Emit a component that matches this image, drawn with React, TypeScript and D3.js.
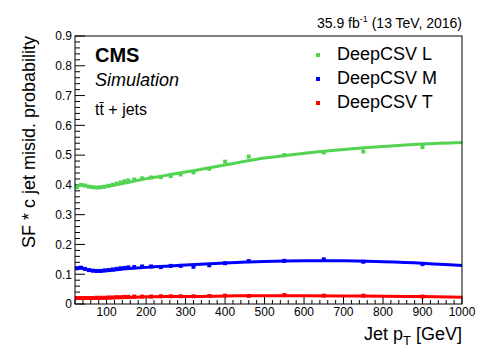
import React from "react";
import * as d3 from "d3";

const W = 498;
const H = 359;

// Bin centres of the measured points (GeV)
const ptPoints = [25, 35, 45, 55, 65, 75, 85, 95, 105, 115, 125, 135, 145, 155, 170, 190, 212.5, 237.5, 262.5, 287.5, 320, 360, 400, 460, 550, 650, 750, 900];
const loosePoints = [0.392, 0.4, 0.398, 0.394, 0.392, 0.391, 0.392, 0.394, 0.397, 0.4, 0.404, 0.408, 0.412, 0.415, 0.418, 0.422, 0.425, 0.426, 0.43, 0.435, 0.442, 0.454, 0.478, 0.495, 0.5, 0.509, 0.512, 0.527];
const mediumPoints = [0.12, 0.122, 0.118, 0.114, 0.112, 0.111, 0.111, 0.113, 0.114, 0.116, 0.118, 0.12, 0.121, 0.123, 0.124, 0.126, 0.126, 0.124, 0.128, 0.128, 0.125, 0.13, 0.137, 0.144, 0.145, 0.15, 0.142, 0.134];
const tightPoints = [0.02, 0.02, 0.02, 0.02, 0.02, 0.021, 0.021, 0.021, 0.022, 0.022, 0.023, 0.023, 0.024, 0.024, 0.025, 0.025, 0.025, 0.026, 0.026, 0.026, 0.026, 0.027, 0.028, 0.027, 0.03, 0.028, 0.028, 0.025];

// Fit curves sampled at these pt values
const ptCurve = [20, 35, 50, 75, 100, 150, 200, 250, 300, 400, 500, 600, 700, 800, 900, 1000];
const looseCurve = [0.392, 0.4, 0.396, 0.391, 0.395, 0.407, 0.421, 0.432, 0.443, 0.467, 0.49, 0.506, 0.519, 0.529, 0.537, 0.542];
const mediumCurve = [0.12, 0.121, 0.116, 0.111, 0.112, 0.118, 0.123, 0.127, 0.131, 0.138, 0.143, 0.145, 0.145, 0.142, 0.137, 0.129];
const tightCurve = [0.019, 0.019, 0.019, 0.019, 0.02, 0.022, 0.024, 0.025, 0.025, 0.027, 0.028, 0.028, 0.027, 0.026, 0.025, 0.023];

const seriesNames = ["DeepCSV L", "DeepCSV M", "DeepCSV T"];
const seriesColors = ["#52d452", "#0000ff", "#ff0000"];
const yTicks = [0, 0.1, 0.2, 0.3, 0.4, 0.5, 0.6, 0.7, 0.8, 0.9];
const xTicks = [100, 200, 300, 400, 500, 600, 700, 800, 900, 1000];

const FONT = "Liberation Sans, Arial, Helvetica, sans-serif";

export default function App() {
  const left = 75, right = 462, top = 36, bottom = 304;
  const x = d3.scaleLinear().domain([20, 1000]).range([left, right]);
  const y = d3.scaleLinear().domain([0, 0.9]).range([bottom, top]);

  const line = d3
    .line<number>()
    .x((_, i) => x(ptCurve[i]))
    .y((d) => y(d))
    .curve(d3.curveMonotoneX);

  const curves = [looseCurve, mediumCurve, tightCurve];
  const points = [loosePoints, mediumPoints, tightPoints];

  const yMinor = d3.range(0, 0.9001, 0.02);
  const xMinor = d3.range(20, 1000.01, 20);

  return (
    <svg width={W} height={H} style={{ position: "absolute", left: 0, top: 0, background: "#fff" }} fontFamily={FONT}>
      <rect x={0} y={0} width={W} height={H} fill="#fff" />
      {/* ticks */}
      {yMinor.map((v, i) => {
        const major = Math.abs(v * 10 - Math.round(v * 10)) < 1e-6;
        return (
          <line key={"ym" + i} x1={left} x2={left + (major ? 10 : 5)} y1={y(v)} y2={y(v)} stroke="#000" strokeWidth={1} />
        );
      })}
      {xMinor.map((v, i) => {
        const major = Math.abs(v % 100) < 1e-6;
        return (
          <line key={"xm" + i} x1={x(v)} x2={x(v)} y1={bottom} y2={bottom - (major ? 8 : 4)} stroke="#000" strokeWidth={1} />
        );
      })}
      {yTicks.map((v) => (
        <text key={"yl" + v} x={72} y={y(v)} dy="0.36em" textAnchor="end" fontSize={12} fill="#000">
          {v === 0 ? "0" : v.toFixed(1)}
        </text>
      ))}
      {xTicks.map((v) => (
        <text key={"xl" + v} x={x(v)} y={316} textAnchor="middle" fontSize={12} fill="#000">
          {v}
        </text>
      ))}
      {/* curves and points */}
      {curves.map((c, s) => (
        <path key={"c" + s} d={line(c) || ""} fill="none" stroke={seriesColors[s]} strokeWidth={3} />
      ))}
      {points.map((p, s) =>
        p.map((v, i) => (
          <rect key={"p" + s + "-" + i} x={x(ptPoints[i]) - 2} y={y(v) - 2} width={4} height={4} fill={seriesColors[s]} />
        ))
      )}
      {/* frame */}
      <rect x={left} y={top} width={right - left} height={bottom - top} fill="none" stroke="#000" strokeWidth={1} />
      {/* axis titles */}
      <text x={right} y={340} textAnchor="end" fontSize={18} fill="#000">
        Jet p<tspan fontSize={13} dy={5}>T</tspan><tspan dy={-5}> [GeV]</tspan>
      </text>
      <text transform={`translate(35,${top}) rotate(-90)`} textAnchor="end" fontSize={18} fill="#000">
        SF * c jet misid. probability
      </text>
      {/* top right label */}
      <text x={right} y={28} textAnchor="end" fontSize={14} fill="#000">
        35.9 fb<tspan fontSize={9} dy={-6}>-1</tspan><tspan dy={6}> (13 TeV, 2016)</tspan>
      </text>
      {/* CMS labels */}
      <text x={95} y={62} fontSize={20} fontWeight="bold" fill="#000">CMS</text>
      <text x={95} y={86} fontSize={18} fontStyle="italic" fill="#000">Simulation</text>
      <text x={95} y={115} fontSize={16} fill="#000">t{"t\u0304"} + jets</text>
      {/* legend */}
      {seriesNames.map((n, i) => (
        <g key={"lg" + i}>
          <rect x={316} y={55 + i * 24 - 2} width={4} height={4} fill={seriesColors[i]} />
          <text x={337} y={60 + i * 24} fontSize={18} fill="#000">{n}</text>
        </g>
      ))}
    </svg>
  );
}
